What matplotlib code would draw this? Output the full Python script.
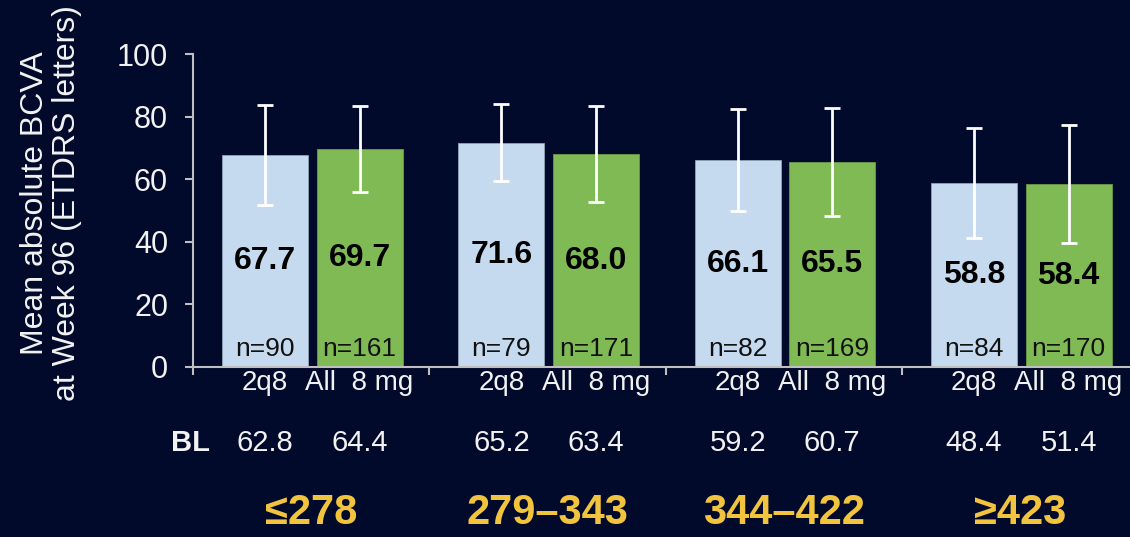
import matplotlib.pyplot as plt
import numpy as np

plt.rcParams['font.family'] = ['Liberation Sans', 'DejaVu Sans']

groups = ['≤278', '279–343', '344–422', '≥423']
arm_names = ['2q8', 'All  8 mg']
mean_2q8 = [67.7, 71.6, 66.1, 58.8]
mean_8mg = [69.7, 68.0, 65.5, 58.4]
sd_2q8 = [16.0, 12.3, 16.3, 17.6]
sd_8mg = [13.7, 15.4, 17.3, 18.8]
n_2q8 = [90, 79, 82, 84]
n_8mg = [161, 171, 169, 170]
bl_2q8 = ['62.8', '65.2', '59.2', '48.4']
bl_8mg = ['64.4', '63.4', '60.7', '51.4']

bg = '#010a2b'
blue = '#c5daee'
green = '#80ba55'
yellow = '#f2c43d'
axis_col = '#bfbfbf'
txt = '#f2f2f2'

fig = plt.figure(figsize=(11.3, 5.37), dpi=100, facecolor=bg)
ax = fig.add_axes([0.1708, 0.3166, 0.8292, 0.5828])
ax.set_facecolor(bg)

x = np.arange(len(groups))
w = 0.364
pos2 = x + 0.305
pos8 = x + 0.705

ax.bar(pos2, mean_2q8, w, color=blue, edgecolor='#8fa3b8', linewidth=0.6, zorder=2)
ax.bar(pos8, mean_8mg, w, color=green, edgecolor='#6a9a48', linewidth=0.6, zorder=2)
ax.errorbar(pos2, mean_2q8, yerr=sd_2q8, fmt='none', ecolor='white', elinewidth=2,
            capsize=5.5, capthick=2, zorder=3, clip_on=False)
ax.errorbar(pos8, mean_8mg, yerr=sd_8mg, fmt='none', ecolor='white', elinewidth=2,
            capsize=5.5, capthick=2, zorder=3, clip_on=False)

for i in range(len(groups)):
    for p, m, n in [(pos2[i], mean_2q8[i], n_2q8[i]), (pos8[i], mean_8mg[i], n_8mg[i])]:
        ax.text(p, m / 2, f'{m:.1f}', ha='center', va='center', fontsize=23,
                fontweight='bold', color='black', zorder=4)
        ax.text(p, 5.8, f'n={n}', ha='center', va='center', fontsize=19,
                color='#111111', zorder=4)
    ax.text(pos2[i], -5.1, arm_names[0], ha='center', va='center', fontsize=20,
            color=txt, clip_on=False)
    ax.text(pos8[i], -5.1, arm_names[1], ha='center', va='center', fontsize=20,
            color=txt, clip_on=False)
    ax.text(pos2[i], -24.3, bl_2q8[i], ha='center', va='center', fontsize=21,
            color=txt, clip_on=False)
    ax.text(pos8[i], -24.3, bl_8mg[i], ha='center', va='center', fontsize=21,
            color=txt, clip_on=False)
    ax.text(x[i] + 0.5, -46.6, groups[i], ha='center', va='center', fontsize=30,
            fontweight='bold', color=yellow, clip_on=False)

ax.text(-0.012, -24.3, 'BL', ha='center', va='center', fontsize=21,
        fontweight='bold', color=txt, clip_on=False)

ax.set_xlim(0, 3.965)
ax.set_ylim(0, 100)
ax.set_yticks([0, 20, 40, 60, 80, 100])
ax.set_xticks([0, 1, 2, 3])
ax.set_xticklabels([])
for s in ['top', 'right']:
    ax.spines[s].set_visible(False)
for s in ['left', 'bottom']:
    ax.spines[s].set_color(axis_col)
    ax.spines[s].set_linewidth(1.5)
ax.tick_params(axis='y', colors=axis_col, labelcolor=txt, labelsize=22,
               length=6, width=1.5, pad=12)
ax.tick_params(axis='x', colors=axis_col, length=6, width=1.5)

fig.text(0.045, 0.622, 'Mean absolute BCVA\nat Week 96 (ETDRS letters)', rotation=90,
         ha='center', va='center', fontsize=23, color=txt, linespacing=1.1)

fig.savefig('out.png', dpi=100, facecolor=bg)
